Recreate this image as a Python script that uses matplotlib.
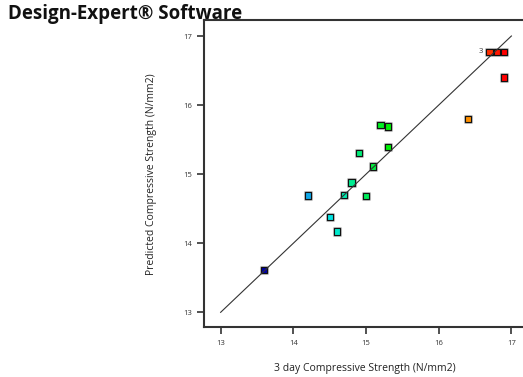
import numpy as np
import matplotlib
matplotlib.use("Agg")
import matplotlib.pyplot as plt
import matplotlib.patheffects as pe
from matplotlib.colors import LinearSegmentedColormap

# 3 day compressive strength, actual vs predicted (N/mm2)
actual = [13.6, 14.2, 14.5, 14.6, 14.7, 14.8, 14.9, 15.0, 15.1, 15.2, 15.3, 15.3,
          16.4, 16.9, 16.7, 16.8, 16.9]
predicted = [13.61, 14.69, 14.38, 14.17, 14.70, 14.88, 15.31, 14.68, 15.11, 15.71,
             15.69, 15.39, 15.80, 16.40, 16.77, 16.77, 16.77]
x_ticks = [13, 14, 15, 16, 17]
y_ticks = [13, 14, 15, 16, 17]

fg = '#333333'

# blue -> cyan -> green -> orange -> red, like the Design-Expert colour scale
cmap = LinearSegmentedColormap.from_list(
    'de',
    [(0.0, '#0000a8'), (0.18, '#10a8e8'), (0.28, '#00e8e0'),
     (0.52, '#00f000'), (0.72, '#d8e000'), (0.85, '#ff9000'),
     (0.94, '#ff3000'), (1.0, '#ff0000')])

fig = plt.figure(figsize=(5.23, 3.77), dpi=100)
ax = fig.add_axes([0.3906, 0.1318, 0.615, 0.8143])

ax.scatter(actual, predicted, c=actual, cmap=cmap, vmin=min(actual), vmax=max(actual),
           marker='s', s=20, edgecolors='#111111', linewidths=0.8, zorder=3,
           path_effects=[pe.Stroke(linewidth=2.2, foreground='#bbbbbb'), pe.Normal()])

# 45 degree reference line
ax.plot([13, 17], [13, 17], color='#333333', linewidth=0.8, zorder=4)

ax.annotate('3', (actual[14], predicted[14]), xytext=(-5, 0), textcoords='offset points',
            fontsize=5.5, color=fg, va='center', ha='right', family='Open Sans')

ax.set_xlim(12.775, 17.2)
ax.set_ylim(12.783, 17.227)
ax.set_xticks(x_ticks)
ax.set_yticks(y_ticks)
ax.set_xticklabels([str(t) for t in x_ticks], fontsize=5.5, color=fg, family='Open Sans')
ax.set_yticklabels([str(t) for t in y_ticks], fontsize=5.5, color=fg, family='Open Sans')
ax.tick_params(direction='out', length=5, width=1.2, color=fg, pad=4)

ax.spines['right'].set_visible(False)
for s in ['left', 'top', 'bottom']:
    ax.spines[s].set_color(fg)
    ax.spines[s].set_linewidth(1.5)

ax.set_xlabel('3 day Compressive Strength (N/mm2)', fontsize=7.5, color='#222222',
              family='Open Sans', labelpad=12)
ax.set_ylabel('Predicted Compressive Strength (N/mm2)', fontsize=7.5, color='#222222',
              family='Open Sans', labelpad=19)

fig.text(0.015, 0.95, 'Design-Expert® Software', fontsize=13.5, fontweight='bold',
         family='Open Sans', color='#111111', va='baseline')

fig.savefig('out.png', dpi=100)
